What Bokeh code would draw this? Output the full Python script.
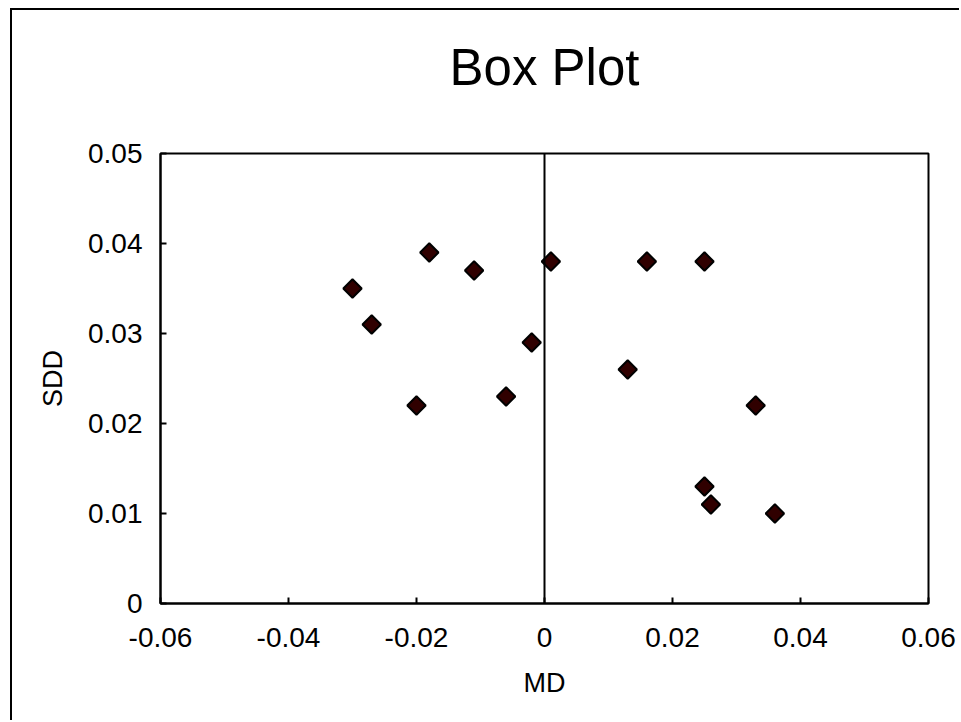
import math
from bokeh.plotting import figure
from bokeh.models import Range1d, FixedTicker, CustomJSTickFormatter, Span, ColumnDataSource, Title
from bokeh.embed import file_html
from bokeh.resources import INLINE

# Data
md = [-0.030, -0.027, -0.018, -0.011, -0.020, -0.006, -0.002, 0.001,
      0.016, 0.025, 0.013, 0.033, 0.025, 0.026, 0.036]
sdd = [0.035, 0.031, 0.039, 0.037, 0.022, 0.023, 0.029, 0.038,
       0.038, 0.038, 0.026, 0.022, 0.013, 0.011, 0.010]
x_ticks = [-0.06, -0.04, -0.02, 0.0, 0.02, 0.04, 0.06]
y_ticks = [0.0, 0.01, 0.02, 0.03, 0.04, 0.05]
title_text = "Box Plot"
x_label = "MD"
y_label = "SDD"

FONT = "Liberation Sans"
W, H = 949, 712

p = figure(width=W, height=H, output_backend="svg", toolbar_location=None,
           x_range=Range1d(x_ticks[0], x_ticks[-1]), y_range=Range1d(y_ticks[0], y_ticks[-1]),
           min_border_left=148, min_border_right=33, min_border_top=143, min_border_bottom=119,
           styles={"border-left": "2px solid black", "border-top": "2px solid black",
                   "margin-left": "10px", "margin-top": "8px"})
p.title.text = title_text
p.title.text_font = FONT
p.title.text_font_size = "51px"
p.title.text_font_style = "normal"
p.title.align = "center"
p.title.vertical_align = "top"
p.title.text_color = "black"
p.title.standoff = 56
# blank spacer between the title and the plot frame
p.add_layout(Title(text=" ", text_font_size="1px", standoff=25), "above")
p.grid.visible = False
p.background_fill_color = "white"
p.border_fill_color = "white"
p.outline_line_color = "black"
p.outline_line_width = 2
p.outline_line_alpha = 1.0

fmt = CustomJSTickFormatter(code="return String(Number(tick.toFixed(4)));")
for ax, ticks, lab in ((p.xaxis[0], x_ticks, x_label), (p.yaxis[0], y_ticks, y_label)):
    ax.ticker = FixedTicker(ticks=ticks, minor_ticks=[])
    ax.formatter = fmt
    ax.axis_line_width = 2
    ax.axis_line_color = "black"
    ax.major_tick_in = 6
    ax.major_tick_out = 0
    ax.major_tick_line_width = 2
    ax.minor_tick_in = 0
    ax.minor_tick_out = 0
    ax.major_label_text_font = FONT
    ax.major_label_text_font_size = "28px"
    ax.major_label_text_color = "black"
    ax.axis_label = lab
    ax.axis_label_text_font = FONT
    ax.axis_label_text_font_size = "27px"
    ax.axis_label_text_font_style = "normal"
    ax.axis_label_text_color = "black"

p.xaxis.major_label_standoff = 24
p.yaxis.major_label_standoff = 18
p.xaxis.axis_label_standoff = 18
p.yaxis.axis_label_standoff = 17

p.add_layout(Span(location=0, dimension="height", line_color="black", line_width=2))

src = ColumnDataSource(dict(x=md, y=sdd))
p.scatter("x", "y", source=src, marker="square", angle=math.pi / 4, size=13,
          fill_color="#300000", line_color="black", line_width=2)

open("out.html", "w").write(file_html(p, INLINE))
